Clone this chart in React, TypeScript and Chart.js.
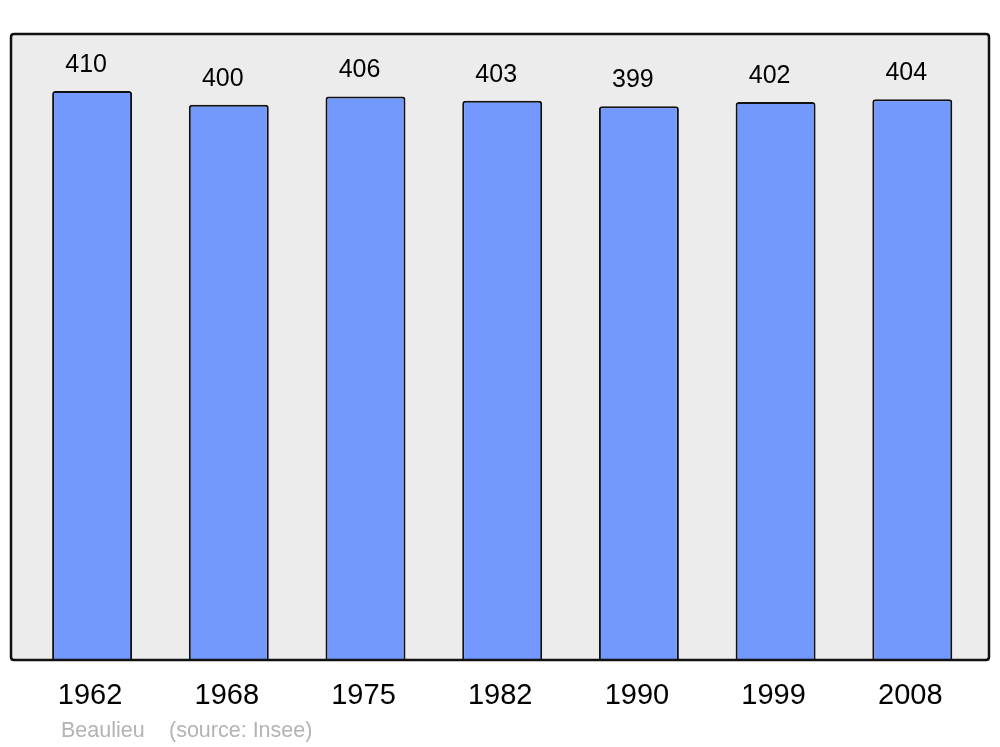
import React, { useEffect, useRef } from "react";
import { Chart, registerables } from "chart.js";

Chart.register(...registerables);

const years = ["1962", "1968", "1975", "1982", "1990", "1999", "2008"];
const population = [410, 400, 406, 403, 399, 402, 404];
const townName = "Beaulieu";
const sourceText = "(source: Insee)";

const FONT = "'Liberation Sans', Arial, sans-serif";

function framePath(ctx: any, chartArea: any) {
  const left = chartArea.left - 12.75;
  const right = chartArea.right + 8.35;
  const top = chartArea.top;
  const bottom = chartArea.bottom;
  const r = 3;
  ctx.beginPath();
  ctx.moveTo(left + r, top);
  ctx.lineTo(right - r, top);
  ctx.quadraticCurveTo(right, top, right, top + r);
  ctx.lineTo(right, bottom - r);
  ctx.quadraticCurveTo(right, bottom, right - r, bottom);
  ctx.lineTo(left + r, bottom);
  ctx.quadraticCurveTo(left, bottom, left, bottom - r);
  ctx.lineTo(left, top + r);
  ctx.quadraticCurveTo(left, top, left + r, top);
  ctx.closePath();
}

const framePlugin = {
  id: "frame",
  beforeDraw(chart: any) {
    const { ctx, chartArea } = chart;
    ctx.save();
    framePath(ctx, chartArea);
    ctx.fillStyle = "#ececec";
    ctx.fill();
    ctx.restore();
  },
  afterDatasetsDraw(chart: any) {
    const { ctx, chartArea } = chart;
    ctx.save();
    framePath(ctx, chartArea);
    ctx.lineWidth = 2.5;
    ctx.strokeStyle = "#111111";
    ctx.stroke();

    // value labels
    const meta = chart.getDatasetMeta(0);
    ctx.fillStyle = "#000000";
    ctx.font = `25px ${FONT}`;
    ctx.textAlign = "center";
    ctx.textBaseline = "middle";
    meta.data.forEach((bar: any, i: number) => {
      ctx.fillText(String(population[i]), bar.x - 6, bar.y - 26);
    });

    // source
    ctx.fillStyle = "#b3b3b3";
    ctx.font = `21.5px ${FONT}`;
    ctx.textAlign = "left";
    ctx.fillText(townName, 61, 731);
    ctx.fillText(sourceText, 169, 731);
    ctx.restore();
  },
};

export default function App() {
  const ref = useRef<HTMLCanvasElement>(null);
  useEffect(() => {
    if (!ref.current) return;
    const chart = new Chart(ref.current, {
      type: "bar",
      data: {
        labels: years,
        datasets: [
          {
            data: population,
            backgroundColor: "#7399ff",
            borderColor: "#111111",
            borderWidth: 2,
            borderSkipped: "bottom",
            borderRadius: { topLeft: 3, topRight: 3, bottomLeft: 0, bottomRight: 0 },
            barPercentage: 0.585,
            categoryPercentage: 1,
          },
        ],
      },
      options: {
        animation: false,
        responsive: false,
        maintainAspectRatio: false,
        layout: { padding: { left: 23.75, right: 19.35, top: 34, bottom: 0 } },
        plugins: {
          legend: { display: false },
          tooltip: { enabled: false },
        },
        scales: {
          x: {
            grid: { display: false, drawTicks: false },
            border: { display: false },
            ticks: {
              color: "#000000",
              font: { family: FONT, size: 29 },
              padding: 19,
              labelOffset: -2,
            },
            afterFit(scale: any) {
              scale.height = 87;
            },
          },
          y: {
            display: false,
            min: 0,
            max: 451,
          },
        },
      },
      plugins: [framePlugin],
    });
    return () => chart.destroy();
  }, []);
  return (
    <div style={{ position: "fixed", left: 0, top: 0, width: 1000, height: 747, background: "#ffffff" }}>
      <canvas ref={ref} width={1000} height={747} style={{ width: 1000, height: 747 }} />
    </div>
  );
}
